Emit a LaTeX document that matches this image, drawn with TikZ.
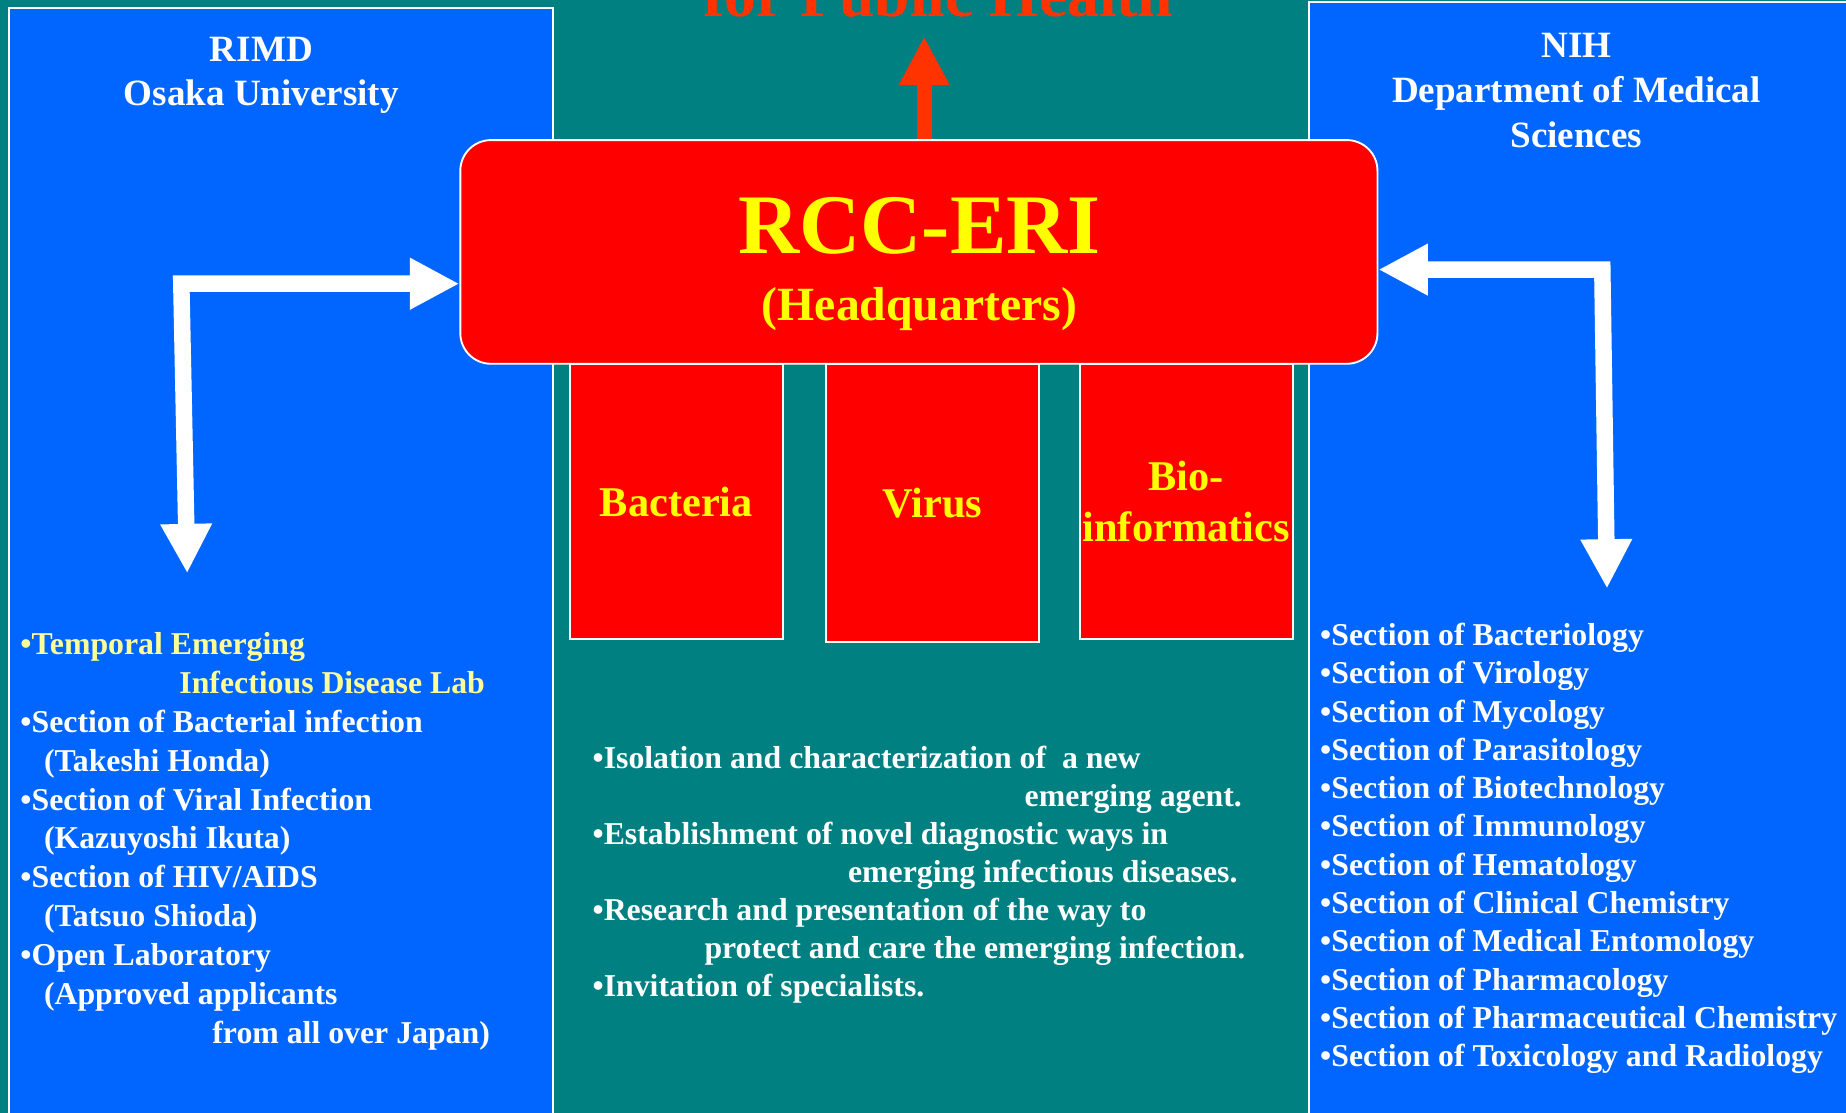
\documentclass[tikz,border=0pt]{standalone}
\usepackage{fontspec}
\setmainfont{Liberation Serif}
\usetikzlibrary{arrows.meta}

\definecolor{bgteal}{HTML}{008080}
\definecolor{panelblue}{HTML}{0066FF}
\definecolor{hqred}{HTML}{FF0000}
\definecolor{hqyellow}{HTML}{FFFF00}
\definecolor{labyellow}{HTML}{FFFF99}
\definecolor{pubred}{HTML}{FF3300}

\tikzset{
    panel/.style={draw=white, line width=0.8pt, fill=panelblue},
    hqbox/.style={draw=white, line width=0.8pt, fill=hqred, rounded corners=13pt,
        minimum width=389.5pt, minimum height=95pt, inner sep=0pt},
    unitbox/.style={draw=white, line width=0.8pt, fill=hqred, minimum width=90.5pt,
        minimum height=117pt, inner sep=0pt, align=center, text=hqyellow,
        font=\fontsize{18}{21.5}\selectfont\bfseries},
    headtext/.style={text=white, inner sep=0pt, align=center,
        font=\fontsize{15.75}{19}\selectfont\bfseries},
    listtext/.style={text=white, inner sep=0pt, align=left, anchor=north west},
    linkarrow/.style={draw=white, line width=7pt, line join=miter,
        {Triangle[length=21pt,width=20.5pt]}-{Triangle[length=21pt,width=20.5pt]}},
    pubarrow/.style={draw=pubred, line width=6.5pt, -{Triangle[length=20.5pt,width=20pt]}}
}

\begin{document}
\begin{tikzpicture}[x=0.5pt,y=-0.5pt]
    \clip (0,0) rectangle (1568,945);
    \fill[bgteal] (0,0) rectangle (1568,945);

    % the two partner institutes
    \draw[panel] (8,7) rectangle (470,960);
    \draw[panel] (1112,2) rectangle (1590,960);

    \node[headtext, anchor=north] (rimd) at (222,31) {RIMD\\Osaka University};
    \node[headtext, anchor=north] (nih) at (1339,28) {NIH\\Department of Medical\\Sciences};

    % headquarters and its units
    \node[unitbox] (bact) at (574.5,426) {Bacteria};
    \node[unitbox, minimum height=118pt] (virus) at (792,427) {Virus};
    \node[unitbox] (bioinf) at (1007.5,426) {Bio-\\informatics};

    \node[hqbox] (rcc) at (780.5,214) {};
    \node[anchor=base, inner sep=0pt, text=hqyellow, font=\fontsize{36}{36}\selectfont\bfseries]
        (rcctitle) at (781,215) {RCC-ERI};
    \node[anchor=base, inner sep=0pt, text=hqyellow, font=\fontsize{20.25}{24}\selectfont\bfseries]
        (rccsub) at (781,272) {(Headquarters)};

    \node[anchor=base, inner sep=0pt, text=pubred, font=\fontsize{27}{27}\selectfont\bfseries]
        (pub) at (797,14) {for Public Health};
    \coordinate (pubtip) at (785,31);
    \draw[pubarrow] (rcc.north -| pubtip) -- (pubtip);

    % links to the institutes
    \coordinate (rimdend) at (159,487);
    \coordinate (rimdcorner) at (154,241);
    \draw[linkarrow] (rimdend) -- (rimdcorner) -- (rimdcorner -| rcc.west);
    \coordinate (nihend) at (1365,500);
    \coordinate (nihcorner) at (1361,229);
    \draw[linkarrow] (nihend) -- (nihcorner) -- (nihcorner -| rcc.east);

    % lists
    \node[listtext, font=\fontsize{13.5}{16.5}\selectfont\bfseries] (rimdlist) at (17,537) {%
        \textcolor{labyellow}{•Temporal Emerging}\\
        \hspace*{67.5pt}\textcolor{labyellow}{Infectious Disease Lab}\\
        •Section of Bacterial infection\\
        \hspace*{10pt}(Takeshi Honda)\\
        •Section of Viral Infection\\
        \hspace*{10pt}(Kazuyoshi Ikuta)\\
        •Section of HIV/AIDS\\
        \hspace*{10pt}(Tatsuo Shioda)\\
        •Open Laboratory\\
        \hspace*{10pt}(Approved applicants\\
        \hspace*{81.5pt}from all over Japan)};

    \node[listtext, font=\fontsize{13.5}{16.15}\selectfont\bfseries] (aims) at (503,633) {%
        •Isolation and characterization of~ a new\\
        \hspace*{183.5pt}emerging agent.\\
        •Establishment of novel diagnostic ways in\\
        \hspace*{108.5pt}emerging infectious diseases.\\
        •Research and presentation of the way to\\
        \hspace*{47.5pt}protect and care the emerging infection.\\
        •Invitation of specialists.};

    \node[listtext, font=\fontsize{13.5}{16.25}\selectfont\bfseries] (nihlist) at (1121,529) {%
        •Section of Bacteriology\\
        •Section of Virology\\
        •Section of Mycology\\
        •Section of Parasitology\\
        •Section of Biotechnology\\
        •Section of Immunology\\
        •Section of Hematology\\
        •Section of Clinical Chemistry\\
        •Section of Medical Entomology\\
        •Section of Pharmacology\\
        •Section of Pharmaceutical Chemistry\\
        •Section of Toxicology and Radiology};
\end{tikzpicture}
\end{document}
